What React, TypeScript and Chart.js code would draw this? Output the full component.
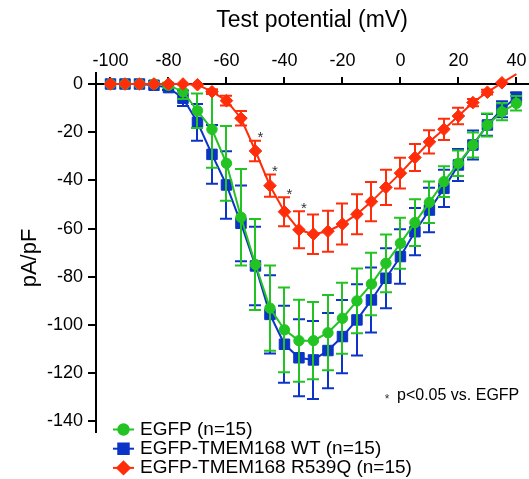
import React, { useEffect, useRef } from 'react';
import { Chart, registerables } from 'chart.js';
import { drawPoint } from 'chart.js/helpers';

Chart.register(...registerables);

// ---------------- data ----------------
const voltages = [-100, -95, -90, -85, -80, -75, -70, -65, -60, -55, -50, -45, -40, -35, -30, -25, -20, -15, -10, -5, 0, 5, 10, 15, 20, 25, 30, 35, 40];

const egfpMean = [0, 0, 0, 0, -0.5, -3.2, -11.1, -18.8, -32.9, -55.3, -74.9, -93, -102, -106.5, -106.5, -103.2, -97.2, -90, -83, -74.4, -66.1, -57.5, -49.1, -40.5, -32.9, -25.3, -17, -11.5, -8];
const egfpSem = [0.3, 0.3, 0.3, 0.5, 1, 3, 7.2, 16, 15.5, 20, 18.9, 17.7, 17.6, 17, 16, 15.6, 14.7, 13.4, 13, 12, 10.6, 9.7, 8.6, 6.4, 5.3, 5.2, 4.8, 3.5, 3];

const wtMean = [0, 0, 0, -0.5, -1.5, -5.9, -15.9, -29.2, -41.9, -57.8, -75.5, -95.6, -108, -113.6, -114.5, -110.6, -104.8, -97.9, -89.6, -80.6, -71.6, -61.3, -52.3, -43.3, -33.6, -25.3, -17, -10.5, -5.5];
const wtSem = [0.5, 0.5, 0.5, 0.5, 1, 3.2, 7.6, 12.2, 14, 15.7, 16.3, 16.2, 16, 16, 16.2, 15.6, 15.2, 14.8, 13.5, 12.4, 11.3, 9.8, 9.2, 7.7, 6.6, 6, 4.5, 3.3, 2];

const r539qMean = [0, 0, 0, 0, 0, 0, -0.3, -3.2, -6.9, -14.2, -27.8, -42.2, -53, -60.5, -62.3, -61.1, -58.1, -54, -48.8, -42.9, -37, -30.5, -24, -18.8, -13.3, -7.7, -3.4, 0.5, 4.1];
const r539qSem = [0, 0, 0, 0, 0, 0, 0.5, 1, 2, 3, 4.3, 4.6, 6, 7.7, 8.2, 8.5, 8.5, 8.3, 8.1, 7.3, 6.4, 5.6, 4.8, 4.4, 3.4, 1.5, 1, 0.5, 0];

const seriesNames = ['EGFP (n=15)', 'EGFP-TMEM168 WT (n=15)', 'EGFP-TMEM168 R539Q (n=15)'];
const significantVoltages = [-50, -45, -40, -35];

const xTicks = [-100, -80, -60, -40, -20, 0, 20, 40];
const yTicks = [0, -20, -40, -60, -80, -100, -120, -140];

const xTitle = 'Test potential (mV)';
const yTitle = 'pA/pF';
const noteText = 'p<0.05 vs. EGFP';

// ---------------- styles ----------------
const GREEN = '#22c322';
const BLUE = '#0c34c6';
const RED = '#ff2d0a';
const FONT = "'Liberation Sans', Arial, Helvetica, sans-serif";

const errorBarPlugin = {
  id: 'errorBars',
  beforeDatasetDraw(chart: any, args: any) {
    const ds = chart.data.datasets[args.index];
    const errs: number[] | undefined = ds.errors;
    if (!errs) return;
    const { ctx } = chart;
    const x = chart.scales.x;
    const y = chart.scales.y;
    ctx.save();
    ctx.strokeStyle = ds.borderColor;
    ctx.lineWidth = 2;
    ds.data.forEach((p: any, i: number) => {
      const e = errs[i];
      if (!e) return;
      const px = Math.round(x.getPixelForValue(p.x));
      const top = y.getPixelForValue(p.y + e);
      const bot = y.getPixelForValue(p.y - e);
      if (Math.abs(bot - top) < 3) return;
      ctx.beginPath();
      ctx.moveTo(px, top);
      ctx.lineTo(px, bot);
      ctx.moveTo(px - 6, top);
      ctx.lineTo(px + 6, top);
      ctx.moveTo(px - 6, bot);
      ctx.lineTo(px + 6, bot);
      ctx.stroke();
    });
    ctx.restore();
  },
};

const decorPlugin = {
  id: 'decor',
  afterDraw(chart: any) {
    const { ctx, chartArea } = chart;
    const x = chart.scales.x;
    const y = chart.scales.y;
    ctx.save();
    // y-axis extension above zero
    ctx.strokeStyle = '#000';
    ctx.lineWidth = 2;
    ctx.beginPath();
    ctx.moveTo(chartArea.left, y.getPixelForValue(0));
    ctx.lineTo(chartArea.left, y.getPixelForValue(5));
    ctx.stroke();

    // significance asterisks
    const redDs = chart.data.datasets[2];
    ctx.fillStyle = '#333';
    ctx.font = `15px ${FONT}`;
    ctx.textAlign = 'center';
    ctx.textBaseline = 'alphabetic';
    significantVoltages.forEach((v) => {
      const i = voltages.indexOf(v);
      const px = x.getPixelForValue(v) + 5;
      const py = y.getPixelForValue(redDs.data[i].y + redDs.errors[i]) - 7;
      ctx.fillText('*', px, py + 0.57 * 15);
    });

    // note
    ctx.font = `12px ${FONT}`;
    ctx.fillText('*', chartArea.left + 291, chartArea.top + 312 + 0.57 * 12);
    ctx.fillStyle = '#000';
    ctx.font = `16px ${FONT}`;
    ctx.textAlign = 'left';
    ctx.textBaseline = 'middle';
    ctx.fillText(noteText, chartArea.left + 301, chartArea.top + 312);

    // legend
    const lx0 = chartArea.left + 17;
    const lx1 = chartArea.left + 38;
    chart.data.datasets.forEach((ds: any, i: number) => {
      const ly = chartArea.bottom - 2.5 + i * 19.2;
      ctx.strokeStyle = ds.borderColor;
      ctx.lineWidth = 2;
      ctx.beginPath();
      ctx.moveTo(lx0, ly);
      ctx.lineTo(lx1, ly);
      ctx.stroke();
      ctx.fillStyle = ds.pointBackgroundColor;
      ctx.strokeStyle = ds.borderColor;
      drawPoint(ctx, { pointStyle: ds.pointStyle, radius: ds.pointRadius, rotation: 0, borderWidth: 1 } as any, (lx0 + lx1) / 2, ly);
      ctx.fillStyle = '#000';
      ctx.font = `19px ${FONT}`;
      ctx.textAlign = 'left';
      ctx.textBaseline = 'middle';
      ctx.fillText(seriesNames[i], chartArea.left + 44, ly);
    });
    ctx.restore();
  },
};

function makeDataset(label: string, mean: number[], sem: number[], color: string, style: string, radius: number, order: number) {
  return {
    label,
    data: voltages.map((v, i) => ({ x: v, y: mean[i] })),
    errors: sem,
    borderColor: color,
    backgroundColor: color,
    pointBackgroundColor: color,
    pointBorderColor: color,
    pointBorderWidth: 1,
    pointStyle: style,
    pointRadius: radius,
    borderWidth: 2,
    tension: 0,
    clip: false,
    order,
  };
}

export default function App() {
  const ref = useRef<HTMLCanvasElement>(null);

  useEffect(() => {
    const canvas = ref.current;
    if (!canvas) return;
    Chart.defaults.font.family = FONT;
    Chart.defaults.color = '#000';

    const chart = new Chart(canvas, {
      type: 'line',
      data: {
        datasets: [
          makeDataset(seriesNames[0], egfpMean, egfpSem, GREEN, 'circle', 5.2, 1),
          makeDataset(seriesNames[1], wtMean, wtSem, BLUE, 'rect', 7.4, 2),
          makeDataset(seriesNames[2], r539qMean, r539qSem, RED, 'rectRot', 6.3, 0),
        ] as any,
      },
      options: {
        responsive: false,
        animation: false,
        events: [],
        layout: { autoPadding: false, padding: { left: 0, top: 0, right: 1, bottom: 47 } },
        plugins: {
          legend: { display: false },
          tooltip: { enabled: false },
        },
        scales: {
          x: {
            type: 'linear',
            position: 'top',
            min: -105,
            max: 44,
            afterFit: (scale: any) => { scale.height = 84; scale.paddingLeft = 0; scale.paddingRight = 0; },
            afterBuildTicks: (scale: any) => { scale.ticks = xTicks.map((v) => ({ value: v })); },
            grid: { display: true, drawOnChartArea: false, drawTicks: true, tickLength: 7, color: '#000', lineWidth: 2 },
            border: { display: true, color: '#000', width: 2 },
            ticks: { font: { size: 18 }, color: '#000', padding: 5, autoSkip: false, maxRotation: 0, minRotation: 0 },
            title: { display: true, text: xTitle, font: { size: 23 }, color: '#000', padding: { top: 7, bottom: 0 } },
          },
          y: {
            type: 'linear',
            position: 'left',
            min: -144.4,
            max: 0,
            afterFit: (scale: any) => { scale.width = 96; scale.paddingTop = 0; scale.paddingBottom = 0; },
            afterBuildTicks: (scale: any) => { scale.ticks = yTicks.map((v) => ({ value: v })); },
            grid: { display: true, drawOnChartArea: false, drawTicks: true, tickLength: 8, color: '#000', lineWidth: 2 },
            border: { display: true, color: '#000', width: 2 },
            ticks: { font: { size: 18 }, color: '#000', padding: 5 },
            title: { display: true, text: yTitle, font: { size: 22 }, color: '#000', padding: { top: 17, bottom: 0 } },
          },
        },
      } as any,
      plugins: [errorBarPlugin, decorPlugin],
    });
    return () => chart.destroy();
  }, []);

  return (
    <div style={{ position: 'absolute', left: 0, top: 0, width: 529, height: 479 }}>
      <canvas ref={ref} width={529} height={479} style={{ display: 'block' }} />
    </div>
  );
}
